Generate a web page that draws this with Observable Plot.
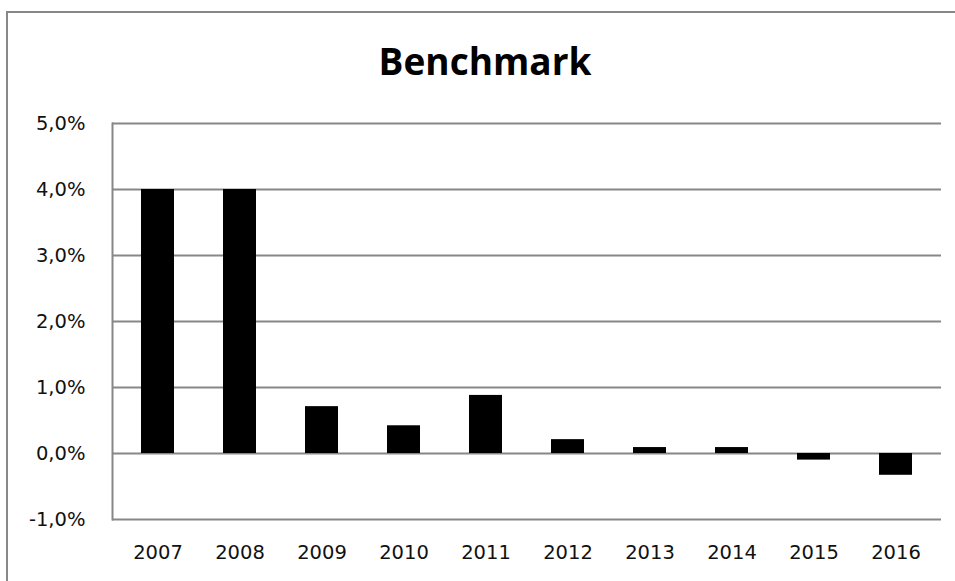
<!DOCTYPE html>
<html>
<head>
<meta charset="utf-8">
<script src="https://cdn.jsdelivr.net/npm/d3@7"></script>
<script src="https://cdn.jsdelivr.net/npm/@observablehq/plot@0.6"></script>
<style>
  html, body { margin: 0; padding: 0; background: #fff; }
  #wrap { position: relative; width: 955px; height: 581px; overflow: hidden; }
  #border { position: absolute; left: 6px; top: 11px; width: 1000px; height: 1000px; border: 2px solid #888; box-sizing: border-box; }
  #title { position: relative; width: 970px; height: 68px; padding-top: 42px; text-align: center;
           font-family: "Open Sans", sans-serif; font-weight: 700; font-size: 37px; line-height: 37px; color: #000; }
  #chart { position: relative; }
</style>
</head>
<body>
<div id="wrap">
  <div id="border"></div>
  <div id="title">Benchmark</div>
  <div id="chart"></div>
</div>
<script>
const years = ["2007","2008","2009","2010","2011","2012","2013","2014","2015","2016"];
const values = [4.0, 4.0, 0.71, 0.42, 0.88, 0.21, 0.09, 0.09, -0.10, -0.33];
const yTicks = [-1, 0, 1, 2, 3, 4, 5];

const data = years.map((year, i) => ({year, value: values[i]}));
const fmt = d => d.toFixed(1).replace(".", ",") + "%";
const grid = "#878787";

const plot = Plot.plot({
  width: 955,
  height: 471,
  marginLeft: 112,
  marginRight: 14,
  marginTop: 13,
  marginBottom: 62,
  style: {fontFamily: "'DejaVu Sans', Verdana, sans-serif", fontSize: "19.5px", color: "#111", background: "transparent"},
  x: {domain: years, paddingInner: 0.6, paddingOuter: 0.3, label: null},
  y: {domain: [-1, 5], ticks: yTicks, label: null},
  marks: [
    Plot.ruleY(yTicks, {stroke: grid, strokeWidth: 2}),
    Plot.barY(data, {x: "year", y: "value", fill: "#000"}),
    Plot.frame({anchor: "left", stroke: grid, strokeWidth: 2}),
    Plot.axisY({ticks: yTicks, tickSize: 0, tickPadding: 27, tickFormat: fmt, label: null}),
    Plot.axisX({tickSize: 0, tickPadding: 26, label: null})
  ]
});
document.getElementById("chart").appendChild(plot);
</script>
</body>
</html>
